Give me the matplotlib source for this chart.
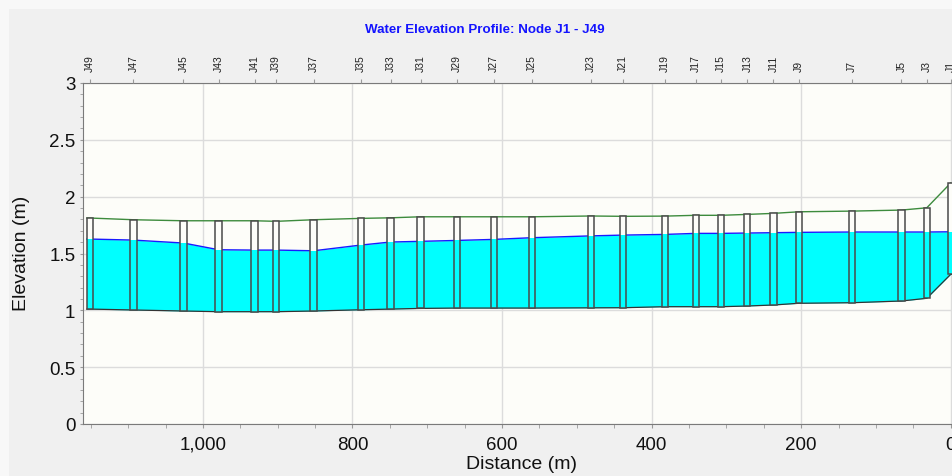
import matplotlib
matplotlib.use('Agg')
import matplotlib.pyplot as plt
from matplotlib.patches import Rectangle
from matplotlib.ticker import MultipleLocator, FuncFormatter

plt.rcParams['font.family'] = ['Liberation Sans', 'DejaVu Sans']

# ---- data ----
nodes = ['J49', 'J47', 'J45', 'J43', 'J41', 'J39', 'J37', 'J35', 'J33', 'J31',
         'J29', 'J27', 'J25', 'J23', 'J21', 'J19', 'J17', 'J15', 'J13', 'J11',
         'J9', 'J7', 'J5', 'J3', 'J1']
distance = [1151, 1093, 1026, 979, 931, 902, 852, 789, 749, 709,
            660, 611, 560, 481, 438, 382, 341, 307, 272, 237,
            203, 132, 66, 32, 0]
invert = [1.011, 1.003, 0.994, 0.988, 0.988, 0.988, 0.994, 1.005, 1.011, 1.017,
          1.020, 1.020, 1.020, 1.022, 1.023, 1.032, 1.032, 1.032, 1.038, 1.047,
          1.062, 1.067, 1.082, 1.106, 1.317]
rim = [1.812, 1.797, 1.788, 1.788, 1.788, 1.783, 1.797, 1.809, 1.814, 1.823,
       1.823, 1.823, 1.823, 1.830, 1.827, 1.829, 1.836, 1.836, 1.844, 1.853,
       1.867, 1.873, 1.882, 1.902, 2.120]
water = [1.627, 1.618, 1.592, 1.533, 1.530, 1.530, 1.524, 1.574, 1.601, 1.607,
         1.615, 1.624, 1.639, 1.655, 1.662, 1.668, 1.677, 1.677, 1.680, 1.683,
         1.686, 1.689, 1.689, 1.689, 1.691]

title = 'Water Elevation Profile: Node J1 - J49'
xlabel = 'Distance (m)'
ylabel = 'Elevation (m)'

W, H = 953, 477
BOX_W = 8.5
PLOT_BG = '#FDFDF9'
CYAN = '#00FFFF'

fig = plt.figure(figsize=(W / 100, H / 100), dpi=100, facecolor='#F8F8F8')
fig.patches.append(Rectangle((9 / W, 0), 1 - 9 / W, 1 - 10 / H,
                             transform=fig.transFigure, facecolor='#F0F0F0',
                             edgecolor='none', zorder=-5))

ax = fig.add_axes([83 / W, 1 - 425 / H, 1 - 83 / W, 341 / H])
ax.set_facecolor(PLOT_BG)
ax.set_xlim(1160.4, -3.07)
ax.set_ylim(0, 3)

# grid
ax.set_axisbelow(True)
ax.xaxis.set_major_locator(MultipleLocator(200))
ax.xaxis.set_minor_locator(MultipleLocator(50))
ax.yaxis.set_major_locator(MultipleLocator(0.5))
ax.yaxis.set_minor_locator(MultipleLocator(0.1))
ax.grid(True, which='major', color='#DCDCDC', lw=1.0)
ax.xaxis.set_major_formatter(FuncFormatter(lambda v, p: f'{v:,.0f}'))
ax.yaxis.set_major_formatter(FuncFormatter(lambda v, p: f'{v:g}'))

# water fill
xs = [distance[0] + BOX_W / 2] + distance + [distance[-1] - BOX_W]
inv_ext = [invert[0]] + invert + [invert[-1]]
wat_ext = [water[0]] + water + [water[-1]]
ax.fill_between(xs, inv_ext, wat_ext, color=CYAN, lw=0, zorder=2)
ax.plot(xs, wat_ext, color='#1a1aff', lw=1.0, zorder=3)
ax.plot(xs, inv_ext, color='#333333', lw=0.9, zorder=3)
ax.plot([distance[0] + BOX_W / 2] + distance, [rim[0]] + rim,
        color='#3d8b3d', lw=1.0, zorder=3)

# node boxes
for d, iv, r, w in zip(distance, invert, rim, water):
    x0 = d - BOX_W / 2
    ax.add_patch(Rectangle((x0, iv), BOX_W, w - iv, facecolor=CYAN,
                           edgecolor='none', zorder=4))
    ax.add_patch(Rectangle((x0, w), BOX_W, r - w, facecolor=PLOT_BG,
                           edgecolor='none', zorder=4))
    ax.add_patch(Rectangle((x0, iv), BOX_W, r - iv, facecolor='none',
                           edgecolor='#4a4a4a', lw=1.1, zorder=5))

# spines / ticks
for s in ['left', 'bottom', 'top']:
    ax.spines[s].set_color('#7a7a7a')
ax.spines['right'].set_visible(False)
ax.tick_params(axis='y', which='both', direction='out', length=2, color='#999999',
               labelsize=13.5, pad=3.5, labelcolor='#111111')
ax.tick_params(axis='x', which='both', direction='out', length=3, color='#999999',
               labelsize=13.5, pad=5.5, labelcolor='#111111')

# top node labels
ax2 = ax.twiny()
ax2.set_xlim(ax.get_xlim())
ax2.set_xticks(distance)
ax2.set_xticklabels(nodes, rotation=90, fontsize=7.5, color='#222222')
ax2.tick_params(axis='x', direction='out', length=3, color='#999999', pad=5.5)
for s in ax2.spines.values():
    s.set_visible(False)

fig.text(485 / W, 1 - 30 / H, title, ha='center', va='center',
         color='#1414ff', fontweight='bold', fontsize=9.6)
fig.text(522 / W, 1 - 465 / H, xlabel, ha='center', va='center',
         fontsize=14, color='#111111')
fig.text(22 / W, 1 - 253 / H, ylabel, ha='center', va='center',
         rotation=90, fontsize=14, color='#111111')

fig.savefig('out.png', dpi=100, facecolor=fig.get_facecolor())
